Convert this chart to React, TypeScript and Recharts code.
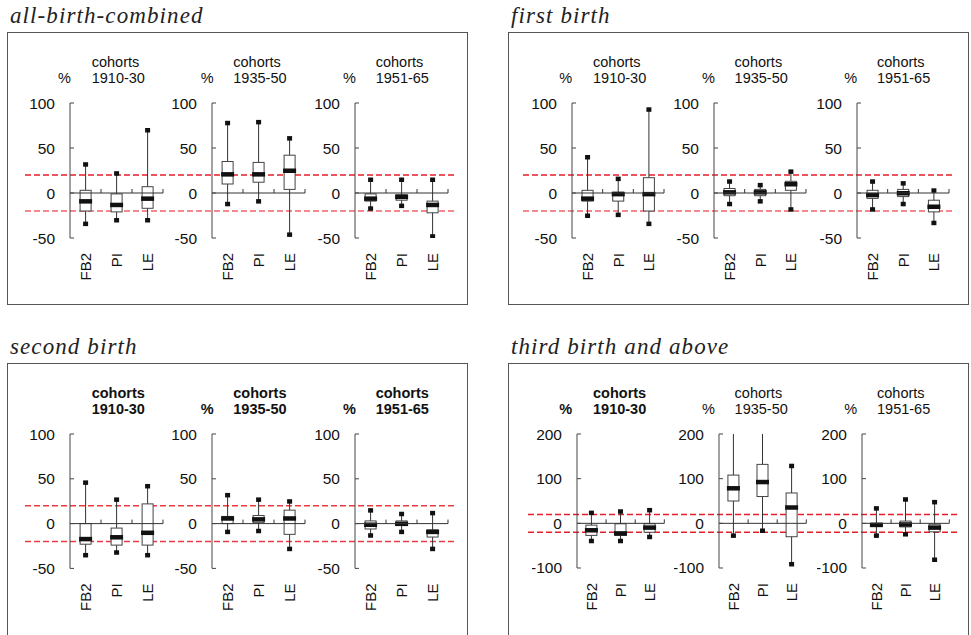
import React from 'react';
import { ComposedChart, Bar, XAxis, YAxis, ReferenceLine } from 'recharts';

const categories = ['FB2', 'PI', 'LE'];
const cohorts = ['1910-30', '1935-50', '1951-65'];
const panelTitles = ['all-birth-combined', 'first birth', 'second birth', 'third birth and above'];

// per cohort, per category: [min, q1, median, q3, max] in %
const allBirthCombined = [
    [[-34, -20, -9, 3, 32], [-30, -21, -13, -1, 22], [-30, -17, -6, 7, 70]],
    [[-12, 10, 21, 35, 78], [-9, 12, 21, 34, 79], [-46, 4, 25, 42, 61]],
    [[-17, -9, -6, -1, 15], [-14, -8, -4, -2, 15], [-48, -22, -13, -9, 15]],
];
const firstBirth = [
    [[-25, -9, -6, 3, 40], [-24, -9, -1, 1, 16], [-34, -20, -1, 17, 93]],
    [[-12, -3, 1, 5, 13], [-9, -3, 1, 4, 9], [-18, 3, 10, 13, 24]],
    [[-18, -6, -2, 3, 13], [-12, -4, 0, 4, 11], [-33, -21, -15, -8, 3]],
];
const secondBirth = [
    [[-35, -23, -17, 0, 46], [-32, -24, -15, -5, 27], [-35, -24, -10, 22, 42]],
    [[-9, 0, 6, 8, 32], [-8, 1, 5, 9, 27], [-28, -12, 6, 15, 25]],
    [[-13, -6, -1, 3, 15], [-9, -2, 0, 3, 11], [-28, -15, -9, -7, 12]],
];
const thirdBirthPlus = [
    [[-39, -27, -15, -4, 24], [-39, -27, -22, -1, 27], [-30, -20, -9, -1, 30]],
    [[-27, 50, 79, 108, 213], [-16, 60, 93, 132, 218], [-91, -30, 36, 68, 129]],
    [[-27, -6, -3, 0, 34], [-24, -8, -2, 5, 54], [-81, -19, -9, -2, 48]],
];

const smallTicks = [-50, 0, 50, 100];
const largeTicks = [-100, 0, 100, 200];
const limitLines = [20, -20];

const panels = [
    {
        title: panelTitles[0], data: allBirthCombined, frameX: 7, frameY: 32,
        axisX: [70, 212, 355], plotW: 93, plotTop: 103.3, plotH: 135,
        domain: [-50, 100], ticks: smallTicks, lineX: [25, 457],
        lineColors: ['#e41f2a', '#f2606b'], textShift: 0,
        showPct: [true, true, true], bold: [false, false, false],
    },
    {
        title: panelTitles[1], data: firstBirth, frameX: 508, frameY: 32,
        axisX: [571.7, 714, 856.7], plotW: 92, plotTop: 103.3, plotH: 135,
        domain: [-50, 100], ticks: smallTicks, lineX: [523, 955],
        lineColors: ['#e41f2a', '#f2606b'], textShift: 501.3,
        showPct: [true, true, true], bold: [false, false, false],
    },
    {
        title: panelTitles[2], data: secondBirth, frameX: 7, frameY: 363,
        axisX: [70, 212, 355], plotW: 93, plotTop: 434.3, plotH: 134.4,
        domain: [-50, 100], ticks: smallTicks, lineX: [25, 457],
        lineColors: ['#ec3a44', '#ec3a44'], textShift: 0,
        showPct: [false, true, true], bold: [true, true, true],
    },
    {
        title: panelTitles[3], data: thirdBirthPlus, frameX: 508, frameY: 363,
        axisX: [576.7, 719.3, 861.7], plotW: 87.3, plotTop: 434.3, plotH: 134,
        domain: [-100, 200], ticks: largeTicks, lineX: [528, 960],
        lineColors: ['#e41f2a', '#e41f2a'], textShift: 501.3,
        showPct: [true, true, true], bold: [true, false, false],
    },
];

const pctX = [58, 200.7, 343];
const cohortX = [91.7, 233.3, 375.7];

function BoxShape(props: any) {
    const { x, y, width, height, payload } = props;
    if (!payload) return null;
    const top = Math.min(y, y + height);
    const h = Math.abs(height);
    const { min, q1, median, q3, max } = payload;
    const py = (v: number) => top + ((max - v) / (max - min)) * h;
    const cx = x + width / 2;
    return (
        <g>
            <line x1={cx} x2={cx} y1={py(max)} y2={py(min)} stroke="#333" />
            <rect x={cx - 5.5} y={py(q3)} width={11} height={py(q1) - py(q3)} fill="#fff" stroke="#444" />
            <rect x={cx - 6.5} y={py(median) - 2} width={13} height={4.5} fill="#111" />
            <rect x={cx - 2.5} y={py(max) - 2} width={5} height={4.5} fill="#111" />
            <rect x={cx - 2.5} y={py(min) - 2} width={5} height={4.5} fill="#111" />
        </g>
    );
}

const zeroAxis = (props: any) => {
    const { x1, x2, y1 } = props;
    const step = (x2 - x1) / categories.length;
    return (
        <g>
            <line x1={x1} x2={x2} y1={y1} y2={y1} stroke="#333" />
            {categories.map((c, i) => (
                <line key={c} x1={x1 + step * (i + 1)} x2={x1 + step * (i + 1)} y1={y1} y2={y1 - 4} stroke="#333" />
            ))}
        </g>
    );
};

const CategoryTick = (props: any) => {
    const { x, y, payload } = props;
    return (
        <text x={x} y={y} transform={`rotate(-90 ${x} ${y})`} textAnchor="end"
            dominantBaseline="central" fontSize={15} fill="#111">
            {payload.value}
        </text>
    );
};

function CohortChart({ boxes, left, top, plotW, plotH, domain, ticks }: any) {
    const data = categories.map((name, i) => ({
        name,
        min: boxes[i][0],
        q1: boxes[i][1],
        median: boxes[i][2],
        q3: boxes[i][3],
        max: boxes[i][4],
    }));
    const yW = 45;
    const mTop = 10;
    const xH = 50;
    return (
        <div style={{ position: 'absolute', left: left - yW, top: top - mTop }}>
            <ComposedChart width={yW + plotW + 6} height={mTop + plotH + xH} data={data}
                margin={{ top: mTop, right: 6, bottom: 0, left: 0 }}>
                <XAxis dataKey="name" type="category" height={xH} axisLine={false} tickLine={false}
                    tickSize={0} tickMargin={15} interval={0} tick={CategoryTick} />
                <YAxis type="number" domain={domain} ticks={ticks} allowDataOverflow width={yW}
                    tickSize={-4} tickMargin={19} stroke="#444" interval={0}
                    tick={{ fill: '#111', fontSize: 15.5 }} />
                <ReferenceLine y={0} shape={zeroAxis} />
                <Bar dataKey={(d: any) => [d.min, d.max]} shape={BoxShape} isAnimationActive={false} />
            </ComposedChart>
        </div>
    );
}

function LimitLines({ left, right, top, plotH, domain, colors }: any) {
    return (
        <div style={{ position: 'absolute', left, top }}>
            <ComposedChart width={right - left} height={plotH} data={[{ x: 0 }, { x: 1 }]}
                margin={{ top: 0, right: 0, bottom: 0, left: 0 }}>
                <XAxis dataKey="x" type="number" domain={[0, 1]} hide />
                <YAxis type="number" domain={domain} hide allowDataOverflow />
                {limitLines.map((v, i) => (
                    <ReferenceLine key={v} y={v} stroke={colors[i]} strokeDasharray="6 3" strokeWidth={1.5} />
                ))}
            </ComposedChart>
        </div>
    );
}

const label = (text: string, x: number, cy: number, bold: boolean, key: string) => (
    <div key={key} style={{
        position: 'absolute', left: x, top: cy - 7.8, fontSize: 14.5, lineHeight: '16px',
        fontWeight: bold ? 700 : 400, color: '#111', whiteSpace: 'nowrap',
    }}>
        {text}
    </div>
);

export default function App() {
    return (
        <div style={{
            position: 'absolute', left: 0, top: 0, width: 971, height: 635, overflow: 'hidden',
            background: '#fff', fontFamily: '"Liberation Sans", Arial, sans-serif',
        }}>
            {panels.map((p, pi) => (
                <React.Fragment key={pi}>
                    <div style={{
                        position: 'absolute', left: p.frameX + 3, top: p.frameY - 28.3,
                        fontFamily: '"Liberation Serif", "Times New Roman", serif', fontStyle: 'italic',
                        fontSize: 23, lineHeight: '23px', letterSpacing: 1.1, color: '#222', whiteSpace: 'nowrap',
                    }}>
                        {p.title}
                    </div>
                    <div style={{
                        position: 'absolute', left: p.frameX, top: p.frameY, width: 461,
                        height: pi < 2 ? 273 : 320, border: '1px solid #555', boxSizing: 'border-box',
                    }} />
                    <LimitLines left={p.lineX[0]} right={p.lineX[1]} top={p.plotTop} plotH={p.plotH}
                        domain={p.domain} colors={p.lineColors} />
                    {p.data.map((boxes, ci) => (
                        <React.Fragment key={ci}>
                            {p.showPct[ci] && label('%', pctX[ci] + p.textShift, p.plotTop - 26, p.bold[ci], 'p')}
                            {label('cohorts', cohortX[ci] + p.textShift, p.plotTop - 41.8, p.bold[ci], 'c')}
                            {label(cohorts[ci], cohortX[ci] + p.textShift, p.plotTop - 26, p.bold[ci], 'y')}
                            <CohortChart boxes={boxes} left={p.axisX[ci]} top={p.plotTop} plotW={p.plotW}
                                plotH={p.plotH} domain={p.domain} ticks={p.ticks} />
                        </React.Fragment>
                    ))}
                </React.Fragment>
            ))}
        </div>
    );
}
